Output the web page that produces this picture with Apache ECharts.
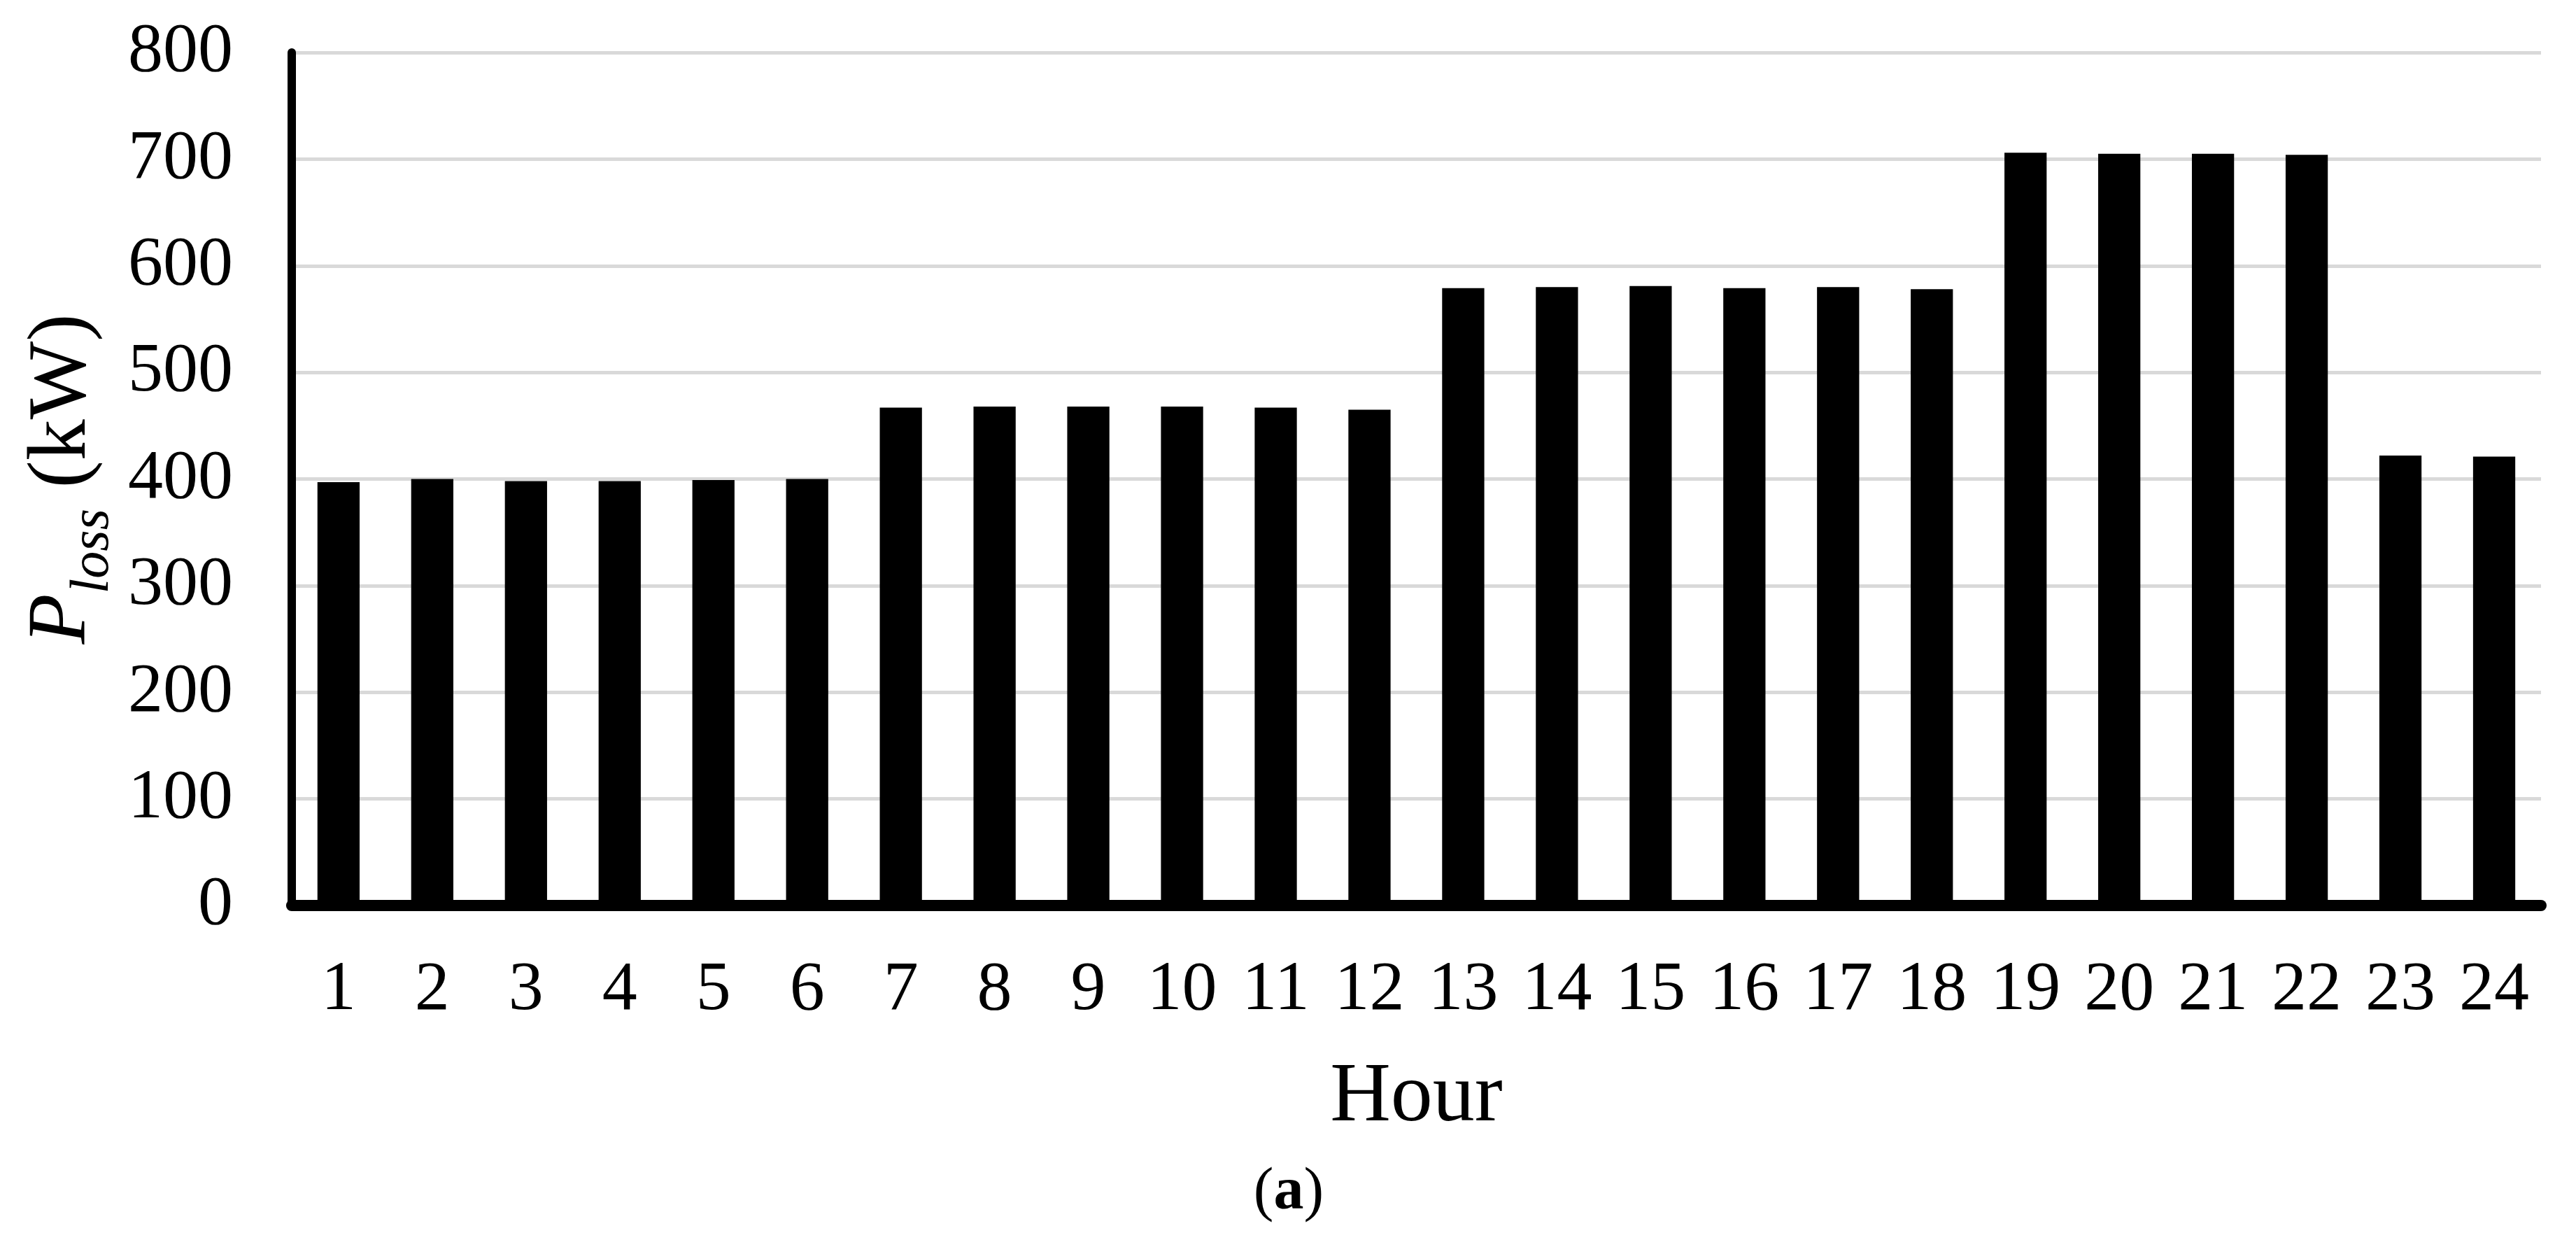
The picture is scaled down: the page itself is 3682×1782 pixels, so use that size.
<!DOCTYPE html>
<html>
<head>
<meta charset="utf-8">
<script src="https://cdn.jsdelivr.net/npm/echarts@6/dist/echarts.min.js"></script>
<style>
    html, body { margin: 0; padding: 0; background: #fff; }
    #chart { width: 3682px; height: 1782px; }
</style>
</head>
<body>
<div id="chart"></div>
<script>
// hours on the x axis
var hours = ['1', '2', '3', '4', '5', '6', '7', '8', '9', '10', '11', '12',
    '13', '14', '15', '16', '17', '18', '19', '20', '21', '22', '23', '24'];

// P_loss per hour (kW)
var lossValues = [397, 400, 398, 398, 399, 400, 467, 468, 468, 468, 467, 465,
    579, 580, 581, 579, 580, 578, 706, 705, 705, 704, 422, 421];

// y axis ticks
var yMin = 0;
var yMax = 800;
var yStep = 100;

var font = "'Liberation Serif', 'Times New Roman', serif";

var dom = document.getElementById('chart');
var chart = echarts.init(dom, null, {
    renderer: 'canvas',
    useDirtyRect: false
});

var option = {
    backgroundColor: '#ffffff',
    animation: false,
    grid: {
        left: 402,
        right: 50,
        top: 75,
        bottom: 488
    },
    xAxis: {
        type: 'category',
        data: hours,
        offset: 3,
        name: 'Hour',
        nameLocation: 'middle',
        nameGap: 212,
        nameTextStyle: {
            fontFamily: font,
            fontSize: 120,
            color: '#000'
        },
        axisLine: {
            show: true,
            lineStyle: { color: '#000', width: 16 }
        },
        axisTick: { show: false },
        axisLabel: {
            margin: 69,
            fontFamily: font,
            fontSize: 100,
            color: '#000'
        }
    },
    yAxis: {
        type: 'value',
        min: yMin,
        max: yMax,
        interval: yStep,
        name: '{p|P}{sub|loss}{n| (kW)}',
        nameLocation: 'middle',
        nameRotate: 90,
        nameGap: 238,
        nameTextStyle: {
            color: '#000',
            rich: {
                p: { fontFamily: font, fontStyle: 'italic', fontSize: 118, lineHeight: 118, color: '#000' },
                sub: { fontFamily: font, fontStyle: 'italic', fontSize: 78, lineHeight: 78, color: '#000',
                    padding: [86, 0, 0, 0] },
                n: { fontFamily: font, fontSize: 118, lineHeight: 118, color: '#000' }
            }
        },
        axisLine: {
            show: true,
            lineStyle: { color: '#000', width: 12 }
        },
        axisTick: { show: false },
        axisLabel: {
            margin: 84,
            fontFamily: font,
            fontSize: 100,
            color: '#000'
        },
        splitLine: {
            show: true,
            lineStyle: { color: '#d9d9d9', width: 5 }
        }
    },
    graphic: [{
        type: 'text',
        x: 1842,
        y: 1705,
        style: {
            text: '({b|a})',
            rich: {
                b: { fontFamily: font, fontWeight: 'bold', fontSize: 86, fill: '#000' }
            },
            fontFamily: font,
            fontSize: 86,
            fill: '#000',
            align: 'center',
            verticalAlign: 'middle'
        }
    }],
    series: [{
        name: 'Ploss',
        type: 'bar',
        data: lossValues,
        barCategoryGap: '55%',
        itemStyle: { color: '#000' }
    }]
};

chart.setOption(option);
window.addEventListener('resize', chart.resize);
</script>
</body>
</html>
